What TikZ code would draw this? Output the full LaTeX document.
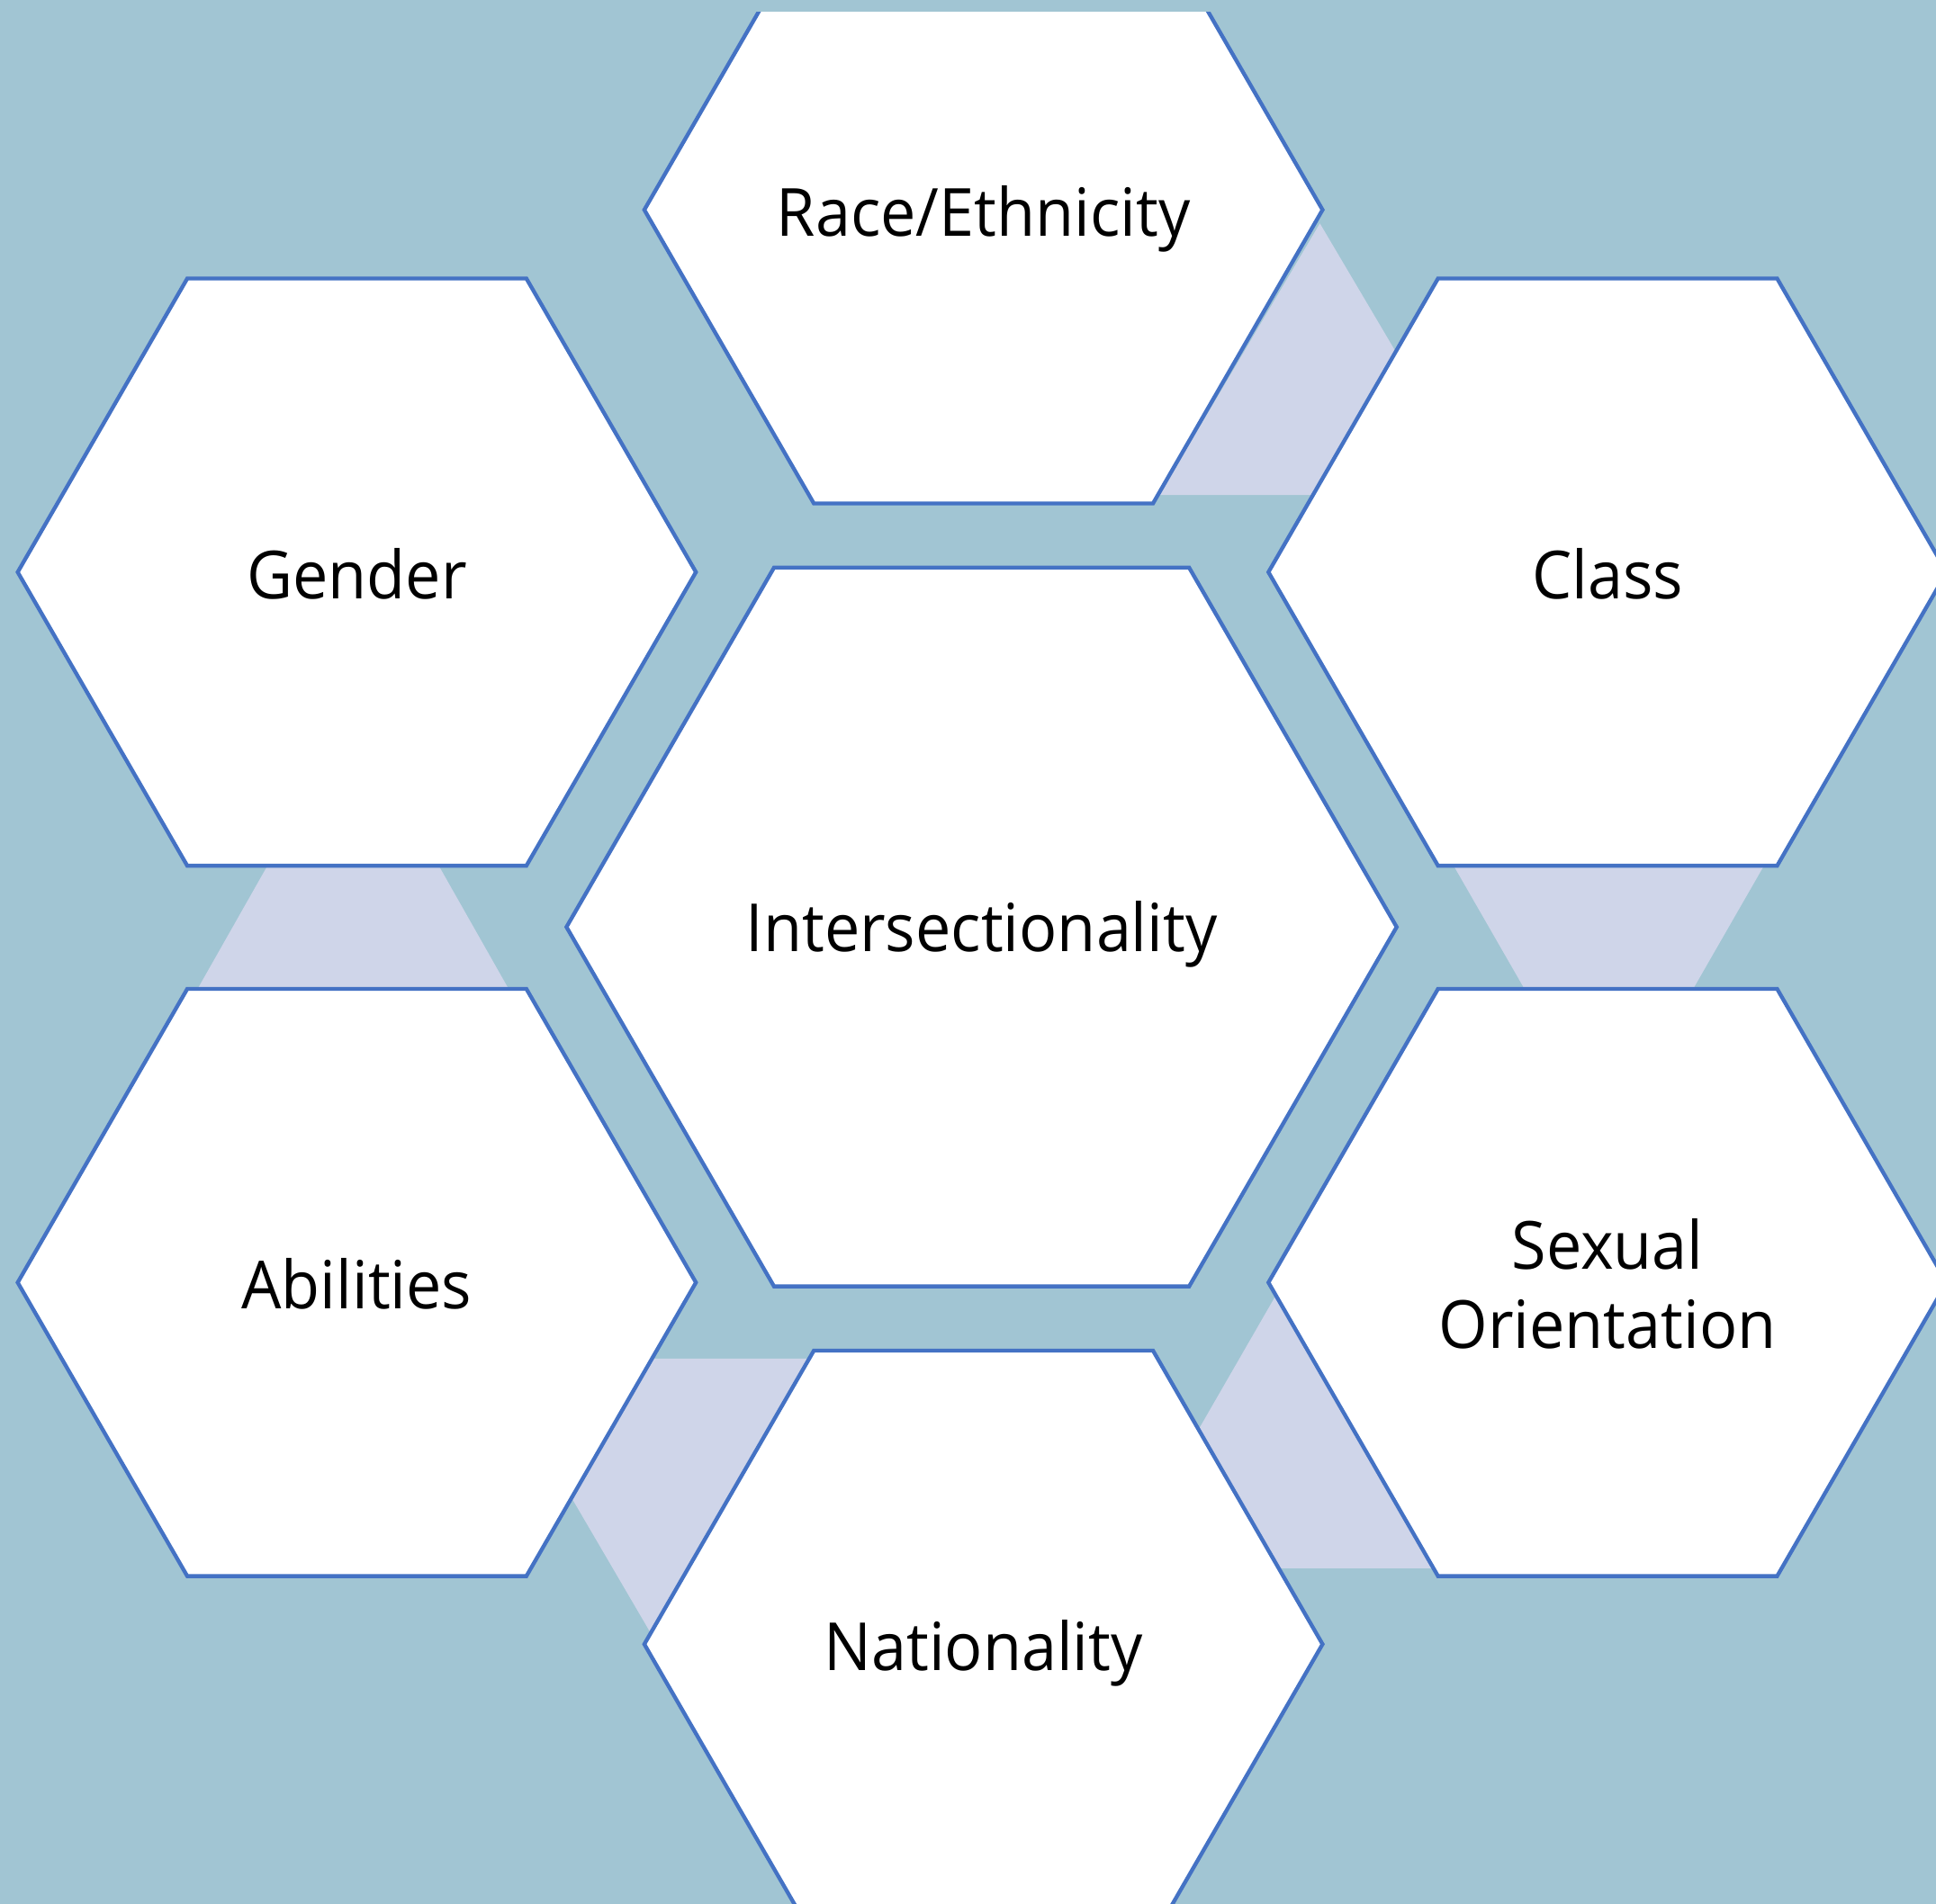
\documentclass[tikz,border=0pt]{standalone}
\usepackage{fontspec}
\setmainfont[FakeStretch=0.95]{Open Sans}
\usetikzlibrary{shapes.geometric}
\definecolor{bgblue}{HTML}{A1C5D3}
\definecolor{lav}{HTML}{CFD5E9}
\definecolor{edgeblue}{HTML}{4472C4}
\tikzset{
  hexo/.style={regular polygon, regular polygon sides=6, draw=edgeblue, fill=white,
    line width=0.9pt, inner sep=0pt, outer sep=0pt, minimum size=5.49cm},
  hexc/.style={hexo, minimum size=6.72cm},
  lbl/.style={font=\fontsize{15.3}{18.2}\selectfont, text=black, inner sep=0pt, anchor=base},
  tri/.style={fill=lav, draw=none}
}
\begin{document}
\begin{tikzpicture}[x=0.01cm,y=-0.01cm]
\useasboundingbox (0,0) rectangle (1568,1542.5);
\fill[bgblue] (0,0) rectangle (1568,1542.5);
% lavender connecting triangles
\fill[tri] (1069,181) -- (939,401) -- (1199,401) -- cycle;
\fill[tri] (1176,699) -- (1430,699) -- (1303,920) -- cycle;
\fill[tri] (1033,1050) -- (906,1270.5) -- (1160,1270.5) -- cycle;
\fill[tri] (397,1100.6) -- (657,1100.6) -- (527,1323) -- cycle;
\fill[tri] (286,579) -- (159,803) -- (413,803) -- cycle;
% hexagons
\begin{scope}
\clip (0,10) rectangle (1568,1542.5);
\node[hexo] (hRace) at (796.5,170) {};
\node[hexo] (hGender) at (289,463.5) {};
\node[hexo] (hClass) at (1302,463.5) {};
\node[hexc] (hInter) at (795,751) {};
\node[hexo] (hAbil) at (289,1039) {};
\node[hexo] (hSexOr) at (1302,1039) {};
\node[hexo] (hNat) at (796.5,1332) {};
\end{scope}
% labels
\node[lbl] (tRace) at (796.5,191) {Race/Ethnicity};
\node[lbl] (tGender) at (289,485) {Gender};
\node[lbl] (tClass) at (1302,485) {Class};
\node[lbl] (tInter) at (795,771) {Intersectionality};
\node[lbl] (tAbil) at (289,1060) {Abilities};
\node[lbl, align=center] (tSexOr) at (1302,1092) {Sexual\\Orientation};
\node[lbl] (tNat) at (796.5,1353) {Nationality};
\end{tikzpicture}
\end{document}
